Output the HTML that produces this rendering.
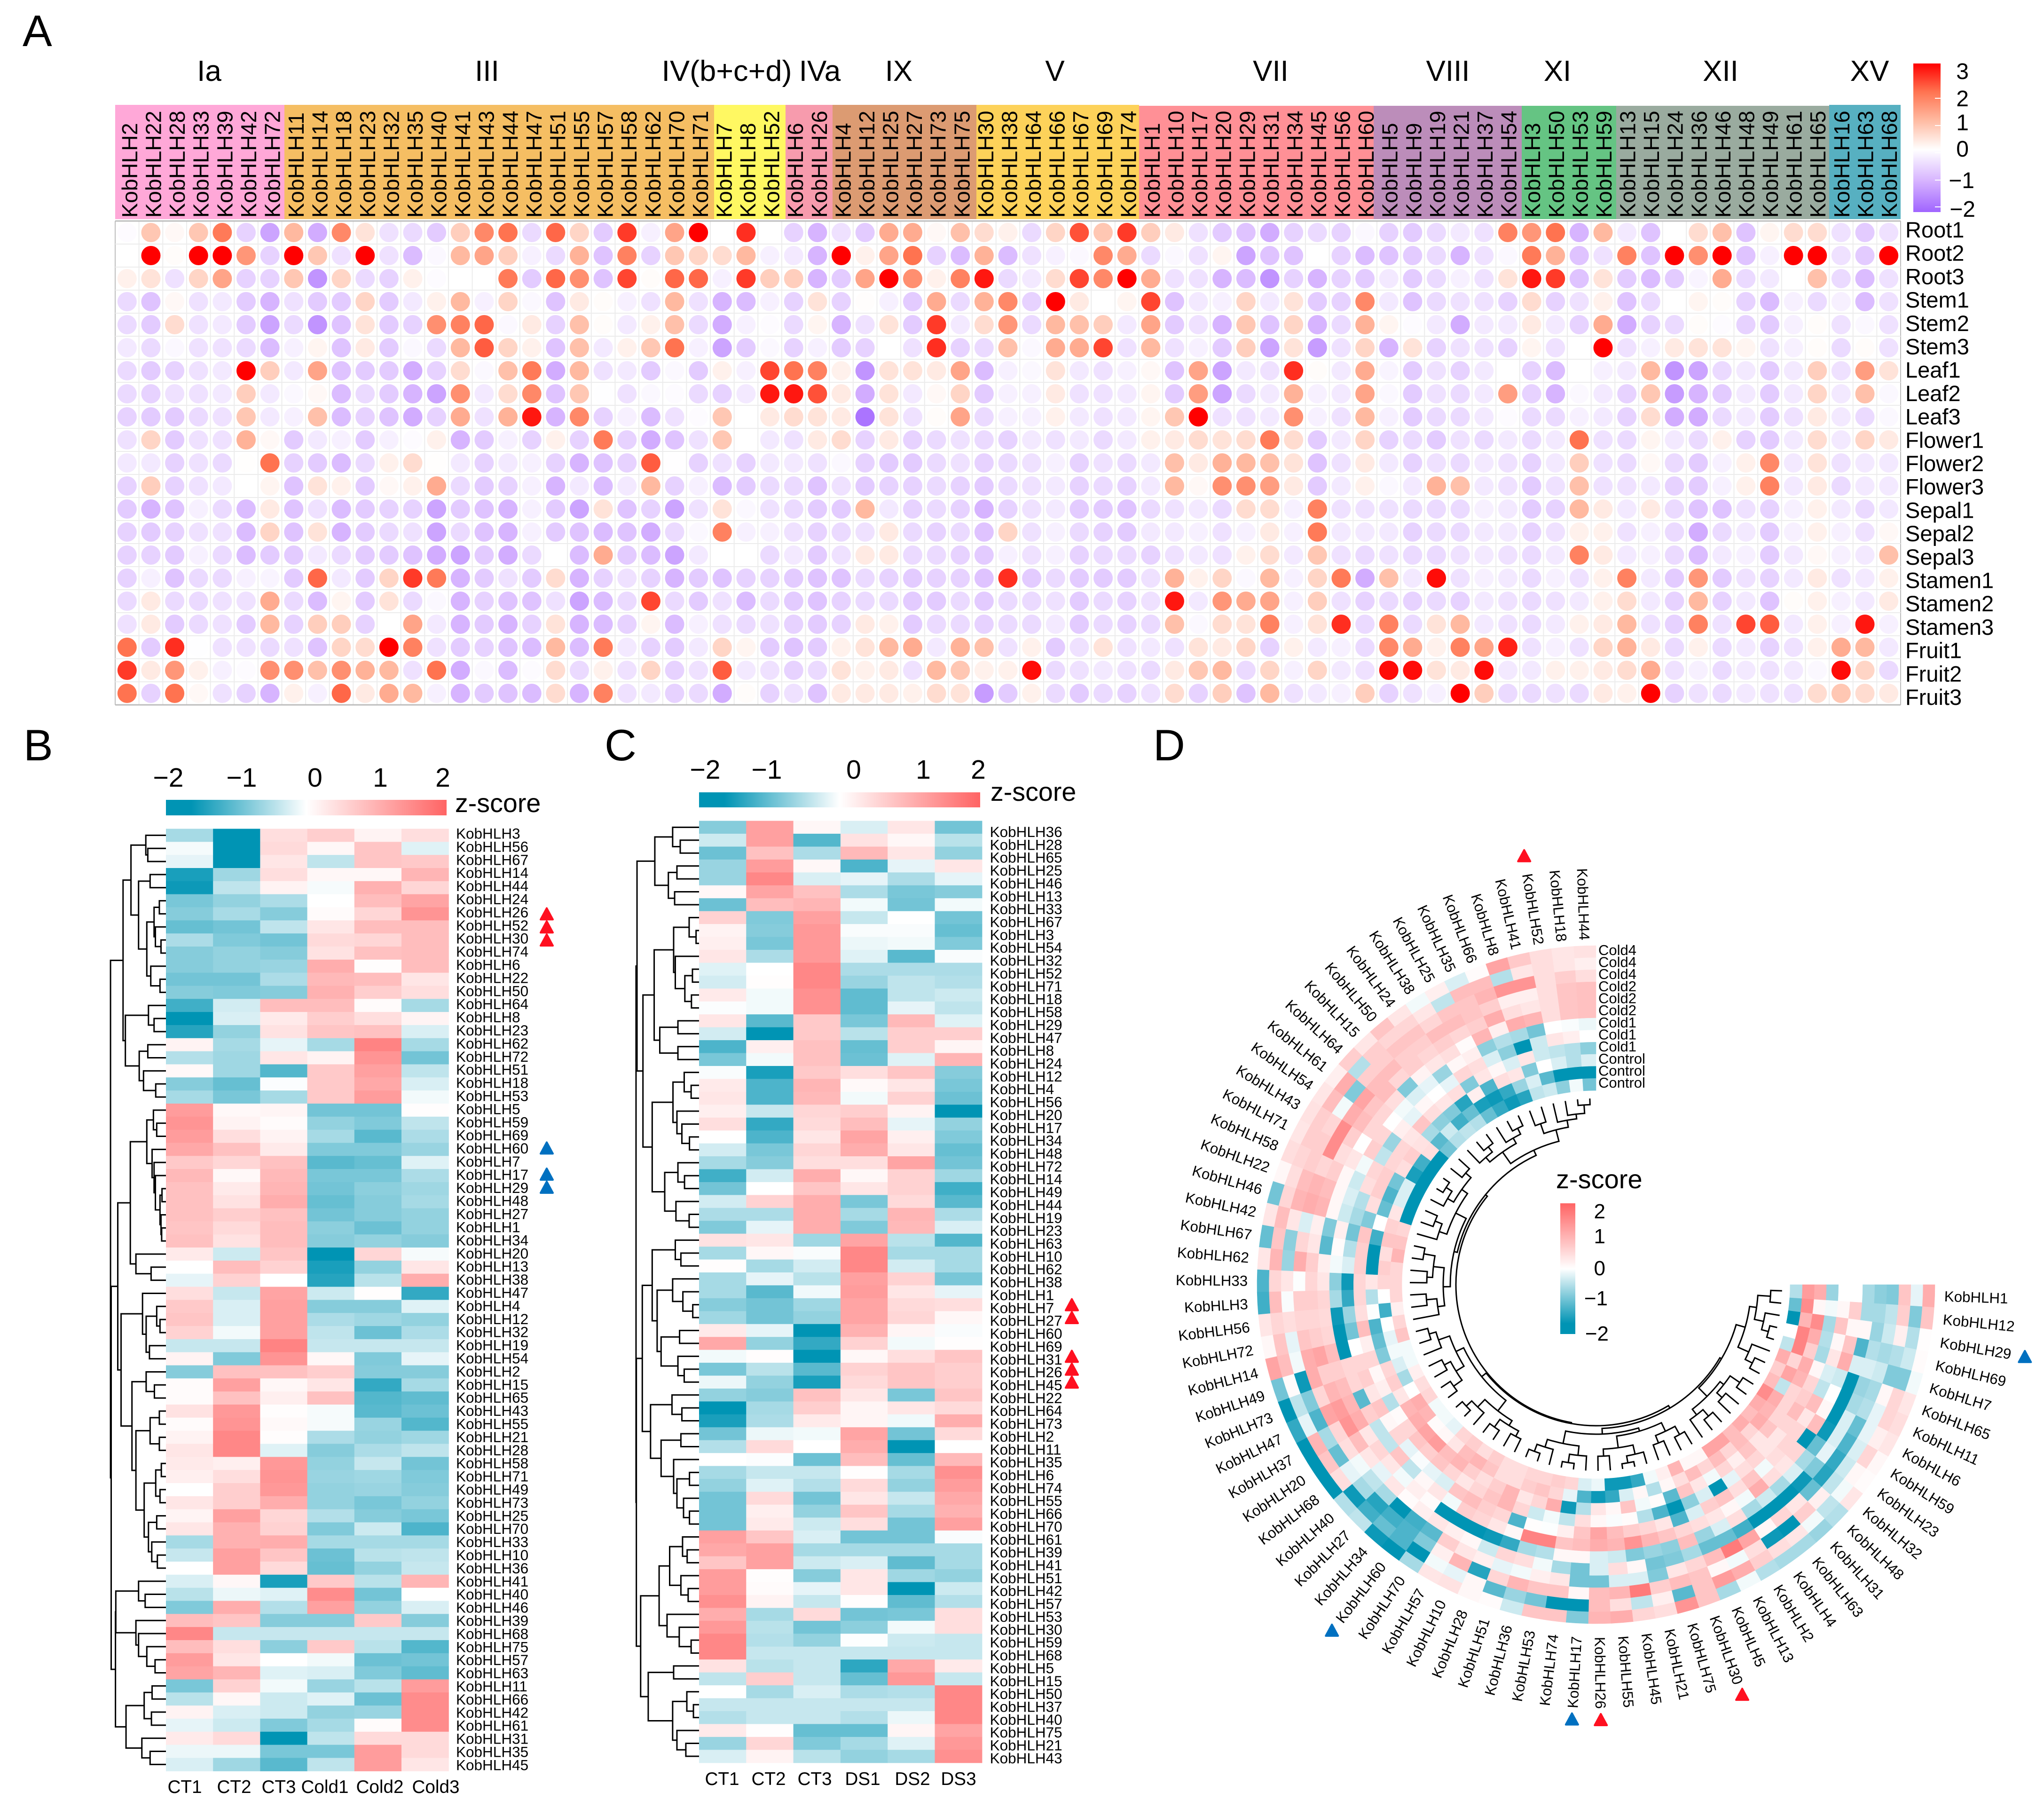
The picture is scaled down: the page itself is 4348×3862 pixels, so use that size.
<!DOCTYPE html>
<html lang="en">
<head>
<meta charset="utf-8">
<title>KobHLH expression heatmaps</title>
<style>
html,body{margin:0;padding:0;background:#fff}
svg{display:block;font-family:"Liberation Sans",sans-serif}
</style>
</head>
<body>
<svg id="fig" xmlns="http://www.w3.org/2000/svg" width="4348" height="3862" viewBox="0 0 4348 3862">
<defs>
<linearGradient id="gradA" x1="0" y1="0" x2="0" y2="1">
<stop offset="0" stop-color="#ff0000"/><stop offset=".19" stop-color="#ff7350"/><stop offset=".38" stop-color="#ffb9a0"/><stop offset=".58" stop-color="#ffffff"/><stop offset=".79" stop-color="#d7b4ff"/><stop offset="1" stop-color="#a064ff"/>
</linearGradient>
<linearGradient id="gradH" x1="0" y1="0" x2="1" y2="0">
<stop offset="0" stop-color="#0094b4"/><stop offset=".09" stop-color="#0094b4"/><stop offset=".5" stop-color="#ffffff"/><stop offset="1" stop-color="#ff6464"/>
</linearGradient>
<linearGradient id="gradV" x1="0" y1="0" x2="0" y2="1">
<stop offset="0" stop-color="#ff6464"/><stop offset=".5" stop-color="#ffffff"/><stop offset=".92" stop-color="#0094b4"/><stop offset="1" stop-color="#0094b4"/>
</linearGradient>
</defs>

<text x="48" y="98" font-size="94">A</text>
<text x="50" y="1617" font-size="94">B</text>
<text x="1286" y="1617" font-size="94">C</text>
<text x="2453" y="1617" font-size="94">D</text>

<g font-size="62" text-anchor="middle">
<text x="445" y="172">Ia</text>
<text x="1036" y="172">III</text>
<text x="1546" y="172" textLength="277" lengthAdjust="spacingAndGlyphs">IV(b+c+d)</text>
<text x="1744" y="172">IVa</text>
<text x="1912" y="172">IX</text>
<text x="2244" y="172">V</text>
<text x="2703" y="172">VII</text>
<text x="3080" y="172">VIII</text>
<text x="3313" y="172">XI</text>
<text x="3660" y="172">XII</text>
<text x="3977" y="172">XV</text>
</g>

<g>
<rect x="4070" y="135" width="58" height="316" fill="url(#gradA)"/>
<g stroke="#fff" stroke-width="2">
<line x1="4116" x2="4128" y1="209" y2="209"/><line x1="4116" x2="4128" y1="267" y2="267"/><line x1="4116" x2="4128" y1="325" y2="325"/><line x1="4116" x2="4128" y1="383" y2="383"/><line x1="4116" x2="4128" y1="440" y2="440"/>
</g>
<g font-size="48" text-anchor="end">
<text x="4188" y="168">3</text>
<text x="4188" y="226">2</text>
<text x="4188" y="277">1</text>
<text x="4188" y="333">0</text>
<text x="4200" y="400">−1</text>
<text x="4202" y="461">−2</text>
</g>
</g>

<g>
<rect x="353" y="1701" width="597" height="33" fill="url(#gradH)"/>
<g font-size="57" text-anchor="middle">
<text x="358" y="1673">−2</text>
<text x="514" y="1673">−1</text>
<text x="670" y="1673">0</text>
<text x="809" y="1673">1</text>
<text x="942" y="1673">2</text>
</g>
<text x="968" y="1727" font-size="55.6">z-score</text>
</g>
<g font-size="38.7" text-anchor="middle">
<text x="393" y="3813">CT1</text>
<text x="498" y="3813">CT2</text>
<text x="593" y="3813">CT3</text>
<text x="691" y="3813">Cold1</text>
<text x="808" y="3813">Cold2</text>
<text x="927" y="3813">Cold3</text>
</g>

<g>
<rect x="1487" y="1685" width="598" height="32" fill="url(#gradH)"/>
<g font-size="57" text-anchor="middle">
<text x="1500" y="1656">−2</text>
<text x="1631" y="1656">−1</text>
<text x="1816" y="1656">0</text>
<text x="1964" y="1656">1</text>
<text x="2081" y="1656">2</text>
</g>
<text x="2107" y="1703" font-size="55.6">z-score</text>
</g>
<g font-size="38.7" text-anchor="middle">
<text x="1536" y="3796">CT1</text>
<text x="1635" y="3796">CT2</text>
<text x="1733" y="3796">CT3</text>
<text x="1835" y="3796">DS1</text>
<text x="1941" y="3796">DS2</text>
<text x="2039" y="3796">DS3</text>
</g>

<g>
<text x="3310" y="2527" font-size="56">z-score</text>
<rect x="3319" y="2559" width="32" height="278" fill="url(#gradV)"/>
<g font-size="44" text-anchor="end">
<text x="3415" y="2591">2</text>
<text x="3415" y="2644">1</text>
<text x="3415" y="2712">0</text>
<text x="3420" y="2776">−1</text>
<text x="3422" y="2851">−2</text>
</g>
</g>

<g id="panelA"></g>
<g id="panelB"></g>
<g id="panelC"></g>
<g id="panelD"></g>
</svg>

<script>
/* ---------- Panel A data ---------- */
const genesA=["KobHLH2","KobHLH22","KobHLH28","KobHLH33","KobHLH39","KobHLH42","KobHLH72","KobHLH11","KobHLH14","KobHLH18","KobHLH23","KobHLH32","KobHLH35","KobHLH40","KobHLH41","KobHLH43","KobHLH44","KobHLH47","KobHLH51","KobHLH55","KobHLH57","KobHLH58","KobHLH62","KobHLH70","KobHLH71","KobHLH7","KobHLH8","KobHLH52","KobHLH6","KobHLH26","KobHLH4","KobHLH12","KobHLH25","KobHLH27","KobHLH73","KobHLH75","KobHLH30","KobHLH38","KobHLH64","KobHLH66","KobHLH67","KobHLH69","KobHLH74","KobHLH1","KobHLH10","KobHLH17","KobHLH20","KobHLH29","KobHLH31","KobHLH34","KobHLH45","KobHLH56","KobHLH60","KobHLH5","KobHLH9","KobHLH19","KobHLH21","KobHLH37","KobHLH54","KobHLH3","KobHLH50","KobHLH53","KobHLH59","KobHLH13","KobHLH15","KobHLH24","KobHLH36","KobHLH46","KobHLH48","KobHLH49","KobHLH61","KobHLH65","KobHLH16","KobHLH63","KobHLH68"];
const tissuesA=["Root1","Root2","Root3","Stem1","Stem2","Stem3","Leaf1","Leaf2","Leaf3","Flower1","Flower2","Flower3","Sepal1","Sepal2","Sepal3","Stamen1","Stamen2","Stamen3","Fruit1","Fruit2","Fruit3"];
const root1=[-.05,.8,.1,.8,1.9,-.6,-1.2,1,-1.1,1.7,.4,-.4,-.5,-.7,.7,1.7,2,-.5,2.1,.6,-.7,2.5,-.2,1.3,3,0,2.6,0,-.6,-1,-.4,-.7,1.2,1.2,.1,.9,.5,.2,-.5,.6,2.3,.8,2.5,.7,.3,-.4,-.7,-.8,-1.1,-.6,-.5,-.6,-.1,-.6,-.7,-.5,-.3,-.4,1.8,1.5,2,-1,1,-.3,-.8,0,.5,.9,-.8,.15,.5,.5,-.4,-.7,-.4];
const root2=[0,3,.05,3,3,1.5,-.6,3,.8,-.4,3,-.4,-.9,-.1,1,1.3,.7,-.2,-.5,1.1,-.8,1.8,-.6,.8,.6,.5,1,-.2,-.3,-1,3,.2,1.3,2,-.6,-.9,1.1,-.9,-.4,-.2,-.1,1.7,1.2,-.5,-.1,-.4,.15,-1.2,-.8,-.8,0,-.6,-.9,-.8,-.7,-.5,-1,-.4,-.1,1.9,1.1,-.8,-.4,1.8,-.8,3,1.6,3,-.8,-.2,3,3,-.4,-.7,3];
const root3=[.2,.4,-.4,.6,1.3,-.6,-.6,.8,-1.4,.6,-.5,-.6,.2,-.05,0,0,1.9,-.7,2.1,1.6,-.8,2.4,.05,2.1,2.1,-.2,2.5,.7,.7,-1,-.7,1.3,3,1.6,.2,1.8,2.8,-.5,-.3,.5,2.4,1.7,3,1.2,-.4,-.4,-1,-.9,-1.4,-.6,-1,-.6,-.7,-.3,-.7,-.5,-.2,-.4,.4,2.8,2.5,-.8,.4,-.7,-.9,-.7,-.15,1.2,-.5,-.3,0,.9,-.5,-.9,-.4];
const stem1=[-.5,-.8,.1,-.4,-.3,-.7,-1,-.4,-.7,-.7,.6,-.7,-.3,.2,1,-.2,.6,-.1,-.8,.3,.05,-.2,-.4,1,-.4,-1,-.9,-.2,-.6,.4,-.6,.03,-.2,-.7,1.2,-.5,1.1,1.7,-.6,3,.3,0,.15,2.4,-.8,-.3,-.2,.6,-.3,.4,-.7,-.6,1.7,-.3,-.8,-.5,-.4,-.4,-.6,.5,-.6,-.4,.2,-.8,-.5,0,.15,.05,-.6,-.9,-.2,-.5,-.2,-.9,-.4];
const stem2=[-.5,-.7,.5,-.4,-.3,-.7,-1.2,-.5,-1.4,-.8,.4,-.7,-.6,1.6,1.8,2.1,-.1,.3,-.6,.9,.05,-.3,.2,.9,-.5,-1.1,-.2,-.05,-.5,.15,-1,-.4,.4,-.7,2.5,-.3,.5,1.5,-.5,1,.9,.7,-.3,1.3,-.7,-.4,-1,.8,-.8,.6,-1,-.5,1.1,.15,-.05,-.3,-1.1,-.3,-.3,.3,-.3,-.6,1.2,-1.1,-.6,-.5,.05,-.05,-.6,-.7,-.2,.05,-.4,-.1,-.4];
const stem3=[-.3,-.5,-.1,-.4,-.4,-.5,-.9,-.2,.15,-.8,.3,-.7,-.1,-.5,1,2.2,.6,.2,-.8,.9,-.3,.2,.8,2,-.2,-1.2,-.7,-.1,-.6,-.2,-.7,-.6,0,-.4,2.6,-.6,-.5,.9,-.1,1.2,1.2,2.4,-.4,1,-.4,-.2,-.7,.7,-1.2,.4,-1.3,-.4,.6,-1,.4,-.6,-.4,-.4,-.6,.15,-.4,0,3,-.4,-.2,.3,.4,.4,.15,-.4,-.2,.05,-.5,.05,-.4];
const leaf1=[-.5,-.7,-.6,-.4,-.3,3,.7,-.3,1.3,-.8,-.7,-.7,-1.1,-.6,.5,-.1,.9,1.9,-1.1,1,-.4,-.3,-.7,-.1,-.7,.2,-.2,2.4,2,1.8,.2,-1.4,.4,.4,.3,1.3,-.9,-.2,-.1,.4,-.3,-.4,-.2,.1,-.8,1.3,-1.2,-.3,-.4,2.6,.05,-.3,1.2,-.15,-.7,-.4,-.6,-.3,0,-.6,-.9,0,-.2,-.3,1,-1.4,-1.2,-.5,-.3,-.7,-.3,.7,-.4,1.4,.4];
const leaf2=[-.5,-.6,-.4,-.4,-.3,.7,-.3,-.1,.1,-.9,-.5,-.7,-1,-1.2,1.6,-.3,.5,1.7,-.8,.8,-.02,-.4,-.1,-.05,-.5,-.6,-.3,2.8,2.8,2.3,.3,-1.1,.4,-.3,.1,.6,-.7,-.2,-.2,.3,-.4,-.4,-.3,.15,-.7,1.4,-1.2,-.5,-.3,1.1,-.2,-.3,1.3,-.1,-.7,-.4,-.5,-.3,1.4,-.6,-1,-.1,-.3,-.6,.8,-1.3,-1,-.7,-.3,-.7,-.3,.6,-.3,.9,-.1];
const leaf3=[-.6,-.7,-.7,-.5,-.4,.8,-.3,-.2,.9,-.9,-.6,-.8,-1.1,-.6,1.2,-.4,1.1,2.8,-1,1.7,-.6,-.2,-.9,-.4,-.05,.8,0,.3,.5,.4,.3,-1.8,.4,-.4,.05,1.3,-.5,-.2,-.2,.2,-.3,-.4,-.3,.15,.8,3,-.4,-.4,-.3,1.6,-.2,-.4,1,-.2,-.7,-.5,-.5,-.3,-.05,-.5,-.5,-.2,-.3,-.6,.5,-1.1,-1.1,-.5,-.3,-.7,-.4,.3,-.3,-.5,-.1];
const flower1=[-.4,.6,-.7,-.4,-.4,1.1,.1,-.7,-.3,-.2,-.7,-.2,-.05,.2,-1,-.7,-.2,-.6,.2,-.6,1.9,-.6,-1.1,-.8,-.4,.8,0,-.3,-.4,.3,.5,-.6,.3,-.6,-.5,-.4,-.5,-.6,-.3,-.4,-.3,-.5,-.3,.2,.3,.5,.4,.5,1.9,.5,-.7,-.3,.6,-.6,-.5,-.7,-.4,-.5,-.3,-.5,-.3,2,-.4,-.5,.15,-.3,-.5,.2,-.6,-.7,-.3,.5,-.3,.6,.3];
const flower2=[-.3,-.3,-.6,-.4,-.5,.02,2,-.6,-.7,-.9,-.5,.2,.5,.02,-.3,-.6,-.3,-.2,-.6,-1,-.8,-.6,2.2,-.01,-.6,-.4,-.6,-.3,-.3,-.4,-.1,-.6,-.7,-.7,-.5,-.4,-.6,-.5,-.4,-.2,-.6,-.4,-.5,-.3,.9,.3,1.1,1,.9,.4,-.8,-.4,.3,-.3,-.6,-.4,-.5,-.3,-.4,-.6,-.3,.7,-.4,-.5,.1,-.5,-.7,-.2,.2,1.7,-.3,.4,-.4,-.3,-.3];
const flower3=[-.6,.7,-.6,-.4,-.3,0,.15,-.8,.4,.2,-.7,.1,.2,1.2,-.5,-.7,-.6,-.2,-1,-.3,-.9,-.3,1,-.6,-.2,-.9,-.7,-.5,-.5,-.8,-.4,-.7,-.6,-.6,-.5,-.6,-.7,-.5,-.4,-.3,-.6,-.5,-.6,-.3,1,.1,1.6,1.6,1.4,.3,-.7,-.3,.2,-.1,-.3,1.1,.9,-.3,-.4,-.7,-.4,.9,-.4,-.4,-.3,-.6,-.7,-.2,.2,1.8,-.3,.3,-.5,-.3,-.3];
const sepal1=[-.7,-1,-.8,-.2,-.5,-.9,.3,-.8,-.4,-.9,-.7,-.6,-.6,-1.2,-.7,-.8,-1,-.2,-.7,-1.2,.4,-.8,-.6,-1.2,-.4,.4,-.1,-.4,-.5,-.7,-.7,1,-.3,-.6,-.5,-.6,-1,-.6,-.4,-.3,-.7,-.7,-.8,-.5,-.4,-.3,-.5,.5,.5,-.2,1.8,-.4,-.4,-.4,-.5,-.5,-.5,-.2,-.3,-.7,-.6,1,.3,-.3,.3,-.5,-.8,-.8,-.4,-.6,-.2,.2,-.3,-.5,-.3];
const sepal2=[-.6,-.7,-.6,-.4,-.4,-.9,.6,-.8,.4,-1,-.7,-.5,-.4,-1.2,-.5,-.8,-1,-.2,-.7,-.8,-.9,-.8,-1.1,-.5,-.1,1.8,-.2,-.2,-.4,-.6,-.5,-.4,.3,-.5,-.6,-.5,-.8,.6,-.4,-.2,-.5,-.6,-.7,-.3,-.3,-.2,-.4,-.2,.3,-.2,1.9,-.3,-.3,-.3,-.6,-.5,-.5,-.3,-.3,-.6,-.4,.2,.2,-.4,-.2,-.5,-1.1,-.5,-.3,-.7,-.2,.2,-.2,-.4,.1];
const sepal3=[-.6,-.6,-.7,-.2,-.5,-.9,-.7,-.7,-.3,-.5,-.7,-.7,-.8,-1.1,-1.2,-.7,-1.1,-.5,0,-.9,1.2,-.7,-.9,-1.2,-.3,0,0,-.5,-.3,-.7,-.4,.3,.3,-.5,-.5,-.6,-.7,-.2,-.4,-.2,-.6,-.5,-.5,-.6,-.4,-.3,-.4,.2,.5,-.3,.8,-.4,-.5,-.4,-.5,-.5,-.4,-.3,-.4,-.5,-.3,1.8,.3,-.3,-.2,-.5,-.9,-.3,-.2,-.7,-.3,.1,-.2,-.3,.9];
const stamen1=[-.6,-.2,-.8,-.5,-.5,-.2,-.15,-.7,2.1,-.3,-.7,.6,2.5,1.9,-1,-.7,-.4,-.7,.5,-1,-.6,-.4,-.6,-1,-.7,-.8,-.6,-.6,-.7,-.8,-.8,-.5,-.6,-.7,-.6,-.6,-.8,2.6,-.7,-.5,-.7,-.7,-.7,-.4,1.1,.2,.6,-.1,1,-.2,.6,1.9,-1.1,.9,-.3,2.9,-.4,-.2,-.3,-.5,-.2,-.4,.2,1.8,-.3,-.7,1.5,-.7,-.4,-.6,-.3,.3,-.4,-.3,.2];
const stamen2=[-.5,.3,-.5,-.5,-.4,-.4,1.2,-.5,-.9,.15,-.7,.4,-.5,-.1,-1,-.6,-.8,-.8,-.4,-1.2,-.9,-.5,2.4,-.5,-.7,-.4,-.9,-.5,-.7,-.8,-.6,-.5,-.5,-.7,-.7,-.5,-.7,-.5,-.5,-.4,-.7,-.5,-.6,-.4,2.8,-.3,1.5,1.2,1.3,-.2,.7,-.4,-.6,-.5,-.6,-.5,-.6,-.3,-.4,-.5,-.4,-.3,.2,.5,-.3,-.6,1,-.6,-.3,-.8,.05,.2,-.2,-.3,.3];
const stamen3=[-.4,.3,-.7,-.5,-.4,-.7,1,-.6,.7,.7,-.6,0,1.3,-.3,-1,-.7,-1,-.6,.4,-1,-.9,-.6,.15,-.9,-.2,-.4,-.5,-.4,-.6,-.7,-.6,.3,.2,-.7,-.5,-.5,-.6,-.5,-.5,-.3,-.7,-.5,-.6,-.5,.9,-.1,.5,.4,1.8,-.2,.4,2.6,-.5,1.8,-.5,.4,1,-.3,-.4,-.5,-.3,.2,.3,1,-.4,-.6,1.8,-.4,2.4,2.2,-.3,.2,-.2,2.8,-.2];
const fruit1=[2,-.7,2.6,-.02,-.4,-.4,-.5,-.4,-.8,.6,.5,3,1.8,-.4,-.7,-.6,-.8,-.9,1,-.9,1.9,-.3,-.6,-.7,-.3,.6,.15,-.7,-.8,-.7,.2,.4,1,1.2,-.3,1.1,.9,-.4,.2,-.7,-.4,.4,-.4,-.3,-.4,.4,.3,.6,-.6,.2,-.3,-.2,-.5,1.7,1.2,.2,1.8,1.3,2.7,-.4,-.2,-.4,.6,1.1,.3,-.5,.2,-.5,-.3,-.6,-.4,.2,1.2,1,-.3];
const fruit2=[2.5,.3,1.5,.2,-.2,-.05,1.6,1.6,.9,1.6,1.1,1,-.4,2,-1.1,-.1,-.9,-.05,.5,-.5,.2,-.4,.6,-.6,-.4,2.2,-.3,-.4,-.6,-.5,.4,.2,.3,-.4,1,.8,.2,.2,2.9,-.5,-.4,-.3,-.4,-.5,.3,.8,1,-.5,.6,-.2,.6,-.3,-.4,2.9,2.9,.4,.3,2.9,-.3,-.3,.2,.2,.3,.5,1.2,-.4,-.2,-.5,-.3,-.4,-.3,-.1,2.9,.6,-.5];
const fruit3=[2,-.6,2,.1,-.4,-.6,-1,.2,-.2,2.1,.3,1.2,1,-.2,-1,-.7,-.8,-.9,.5,-1,1.8,-.4,-.3,-.6,-.5,-1.1,.05,-.6,-.4,-.8,.3,.3,.3,.2,.5,.4,-1.3,-.7,.2,-.5,-.7,-.5,-.6,-.4,.5,-.6,.7,-.8,1,-.4,-.3,-.2,.7,-.6,-.4,-.2,3,.7,-.5,-.5,-.4,-.5,.3,.2,3,-.6,-.4,-.5,-.3,-.4,-.4,.5,.8,.5,.3];
const valuesA=[root1,root2,root3,stem1,stem2,stem3,leaf1,leaf2,leaf3,flower1,flower2,flower3,sepal1,sepal2,sepal3,stamen1,stamen2,stamen3,fruit1,fruit2,fruit3];

/* ---------- Panel B data ---------- */
const genesB=["KobHLH3","KobHLH56","KobHLH67","KobHLH14","KobHLH44","KobHLH24","KobHLH26","KobHLH52","KobHLH30","KobHLH74","KobHLH6","KobHLH22","KobHLH50","KobHLH64","KobHLH8","KobHLH23","KobHLH62","KobHLH72","KobHLH51","KobHLH18","KobHLH53","KobHLH5","KobHLH59","KobHLH69","KobHLH60","KobHLH7","KobHLH17","KobHLH29","KobHLH48","KobHLH27","KobHLH1","KobHLH34","KobHLH20","KobHLH13","KobHLH38","KobHLH47","KobHLH4","KobHLH12","KobHLH32","KobHLH19","KobHLH54","KobHLH2","KobHLH15","KobHLH65","KobHLH43","KobHLH55","KobHLH21","KobHLH28","KobHLH58","KobHLH71","KobHLH49","KobHLH73","KobHLH25","KobHLH70","KobHLH33","KobHLH10","KobHLH36","KobHLH41","KobHLH40","KobHLH46","KobHLH39","KobHLH68","KobHLH75","KobHLH57","KobHLH63","KobHLH11","KobHLH66","KobHLH42","KobHLH61","KobHLH31","KobHLH35","KobHLH45"];
const valuesB=[[-.7,-2,.4,.6,.15,.4],[-.08,-2,.45,.1,.7,-.25],[-.2,-2,.3,-.5,.7,.65],[-1.8,-.75,.4,.1,.1,.9],[-1.9,-.5,.15,-.07,.95,.5],[-1.05,-.85,-.65,0,.8,1.1],[-.95,-.68,-.95,.05,.5,1.3],[-1.2,-1.1,-.5,.3,.8,.8],[-.65,-1,-1.1,.45,.5,.8],[-.95,-.85,-.95,.35,.75,.8],[-.95,-.85,-.8,1,.03,.8],[-1.1,-1.1,-.65,.85,.8,.3],[-.95,-1,-.95,.95,.6,.4],[-1.5,-.35,.8,.8,.05,-.7],[-2,-.3,.25,.6,.4,.13],[-1.7,-.85,.35,.7,.75,-.3],[.15,-.7,-.2,-.7,1.5,-.7],[-.6,-.75,.3,.15,1.3,-1.1],[.08,-.75,-1.35,.65,1.15,-.5],[-.95,-1.2,-.03,.65,1.05,-.3],[-.7,-1.05,-.7,.65,1.2,-.1],[1.2,.08,.12,-1.1,-1.1,.03],[1.3,.15,.05,-.85,-1,-.5],[1.2,.4,.15,-.7,-1.3,-.65],[1.05,.75,.25,-1,-1,-.8],[.65,.5,.75,-1.3,-1.2,-.25],[.85,.08,.85,-1.05,-1.05,-.65],[.75,.25,.9,-1.1,-.9,-.75],[.75,.35,1,-1.2,-.95,-.7],[.75,.6,.75,-1.1,-.95,-.85],[.7,.45,.8,-.9,-1.15,-.85],[.75,.35,.8,-.95,-.85,-.95],[.25,-.4,.7,-2,.5,-.07],[0,.8,.55,-1.8,-.85,.3],[-.2,.55,0,-1.7,-.55,1],[.4,-.45,1.1,-.4,.03,-1.6],[.65,-.3,1.15,-.95,-.95,-.25],[.7,-.3,1.15,-.65,-.75,-.85],[.55,-.1,1.15,-.5,-1.15,-.65],[-.45,-.45,1.5,-.45,-.45,-.45],[.15,-1,1.3,.1,-1,-.2],[-.95,.75,.75,.6,-.95,-.95],[.05,1.15,.1,.3,-1.6,-.7],[.05,.75,.2,.75,-1.35,-1.25],[.35,1.25,.03,-.07,-1.3,-1.15],[.05,1.3,.07,-.07,-.8,-1.35],[.15,1.45,.03,-.65,-.85,-.75],[.3,1.45,-.25,-.95,-.65,-.5],[.25,.2,1.25,-.85,-.45,-1.1],[.2,.4,1.3,-.8,-.75,-1],[0,.6,1.25,-.85,-.8,-.95],[.3,.6,1,-.85,-1.05,-.85],[.13,1.15,.5,-.6,-.95,-1.05],[.3,.95,.55,-1,-.4,-1.4],[-.7,.95,1,-.7,-.7,-.7],[-.45,1.15,.7,-1.15,-.55,-.5],[0,1.15,.45,-1.2,-.85,-.45],[-.3,.1,-1.8,.65,-.55,.9],[-.55,-.15,-.25,1.4,-1.1,0],[-1,1,-.6,1.15,-.85,-.3],[.8,.7,-.95,-.95,.65,-.95],[1.45,-.45,-.45,-.45,-.45,-.45],[.8,.4,-.9,.65,-.55,-1.35],[1.2,.3,0,-.1,-1.15,-1.1],[1.1,.9,-.25,-.3,-1,-1.25],[-1.05,.55,-.1,-.8,-.55,1.2],[-.55,.1,-.4,-.25,-1.15,1.4],[.15,-.3,-.4,-.85,-.8,1.4],[-.2,-.4,-1,-.7,.05,1.4],[.25,.45,-2,-.5,.45,.45],[-.15,-.15,-1.05,-1.05,1.2,.45],[-.3,-.75,-1.3,-.5,1.2,.3]];
const redMarkersB=["KobHLH26","KobHLH52","KobHLH30"];
const blueMarkersB=["KobHLH60","KobHLH17","KobHLH29"];
/* dendrogram merge heights: [height, left, right]; 0 is a leaf */
const treeB=[168,[130,[106,[61,0,[55,0,0]],[83,[48,0,0],[58,[36,[20,0,0],[32,0,[15,0,0]]],[46,0,[18,0,0]]]]],[123,[53,0,[36,0,0]],[81,[55,0,0],[68,0,[31,0,0]]]]],[166,[146,[108,[58,[38,0,[28,0,0]],[42,0,[36,0,[32,0,[18,[12,0,0],[15,0,[13,0,0]]]]]]],[91,0,[45,0,0]]],[136,[71,0,[60,[28,0,[18,0,0]],[50,0,0]]],[103,[60,0,[35,0,0]],[91,[48,[20,0,0],[20,0,0]],[66,[31,[14,0,0],[18,0,0]],[53,[28,0,0],[43,0,[26,0,0]]]]]]]],[153,[152,[83,0,[63,0,0]],[91,0,[83,0,[58,0,[33,0,0]]]]],[121,[66,[42,0,0],[44,0,0]],[73,0,[48,0,0]]]]]];

/* ---------- Panel C data ---------- */
const genesC=["KobHLH36","KobHLH28","KobHLH65","KobHLH25","KobHLH46","KobHLH13","KobHLH33","KobHLH67","KobHLH3","KobHLH54","KobHLH32","KobHLH52","KobHLH71","KobHLH18","KobHLH58","KobHLH29","KobHLH47","KobHLH8","KobHLH24","KobHLH12","KobHLH4","KobHLH56","KobHLH20","KobHLH17","KobHLH34","KobHLH48","KobHLH72","KobHLH14","KobHLH49","KobHLH44","KobHLH19","KobHLH23","KobHLH63","KobHLH10","KobHLH62","KobHLH38","KobHLH1","KobHLH7","KobHLH27","KobHLH60","KobHLH69","KobHLH31","KobHLH26","KobHLH45","KobHLH22","KobHLH64","KobHLH73","KobHLH2","KobHLH11","KobHLH35","KobHLH6","KobHLH74","KobHLH55","KobHLH66","KobHLH70","KobHLH61","KobHLH39","KobHLH41","KobHLH51","KobHLH42","KobHLH57","KobHLH53","KobHLH30","KobHLH59","KobHLH68","KobHLH5","KobHLH15","KobHLH50","KobHLH37","KobHLH40","KobHLH75","KobHLH21","KobHLH43"];
const valuesC=[[-.95,1.15,.1,-.3,.3,-1.1],[-.4,1.15,-1.35,.35,.1,-.55],[-1.15,.75,-.65,.85,.3,-.85],[-.8,1.2,.1,-1.4,-.2,.3],[-.8,1.45,-.3,-.2,-.65,-.2],[.1,1.1,.75,-.65,-1.05,-.95],[-1.15,.8,.9,-.1,-1.1,-.1],[.55,-1,1.15,-.45,0,-1.1],[.15,-.95,1.25,-.05,-.05,-1.2],[.2,-1.05,1.25,-.15,-.1,-1],[.3,-.65,1.25,-.25,-1.3,-.05],[-.25,0,1.45,-.65,-.65,-.65],[-.35,.03,1.45,-.8,-.5,-.6],[.25,-.1,1.35,-1.25,-.5,-.4],[-.03,-.1,1.35,-1.25,-.2,-.5],[.3,-1.3,.65,-1.05,.85,-.25],[-.35,-2,.65,-.55,.6,.6],[-1.4,.2,.75,-1.2,.6,.12],[-1.05,-.1,.75,-1.15,-.25,.9],[-.05,-1.8,.65,.4,.7,-.95],[.25,-1.4,.9,.07,.3,-1.05],[.3,-1.4,.85,-.1,.55,-1.15],[.2,-.45,.5,.6,.15,-2],[.4,-1.6,.45,.8,-.2,-.85],[0,-1.4,.3,1.1,.2,-1],[-.35,-1.05,.5,1,.3,-1.2],[-.7,-.95,.4,.4,1.1,-1.1],[-1.5,-.35,1,.1,.55,-.75],[-1.1,0,.7,.3,.55,-1.5],[-.35,.55,1,-1.05,.45,-1.3],[-.65,-.65,1,-.7,.9,-.65],[-1,-.2,1,-1,.85,-.3],[.35,.3,-.75,1.1,-.55,-1.35],[-.7,.1,-.05,1.45,-.7,-.7],[.02,-.7,-.35,1.45,-.35,-.7],[-.7,-.2,-.55,1.15,.55,-1.05],[-.7,-1.3,-.12,1.2,.3,-.2],[-.95,-1.1,-.75,1.1,.45,.4],[-.75,-1.1,-.85,1.1,.5,.1],[.25,-.2,-2,.95,.12,-.05],[1.05,-.85,-1.6,.55,-.1,.02],[-.1,.03,-2,.1,.4,.7],[-1.05,-.55,-1.3,.55,.7,.6],[-.15,-.85,-1.8,.45,.7,.6],[-.85,-.95,.75,.3,-1.05,.7],[-2,-.7,.6,.12,.3,.45],[-1.8,-.65,.25,.12,-.12,1],[-1.1,-.15,-.1,1.1,-1.1,.45],[-.6,.45,0,1,-2,0],[0,-.03,-1.15,.8,-1.2,.85],[-.7,-.45,-.45,.03,-.7,1.35],[-.85,-.25,-.6,.45,-.85,1.2],[-1.1,.45,-1.1,.3,-.45,1.05],[-1.1,.2,-.85,.7,-.7,.95],[-1.1,.25,-.4,.4,-1.1,1.15],[1.15,.7,-.3,-1.1,-1.1,-.05],[1.05,1.15,-.7,-.7,-.7,-.7],[.7,1.15,-.4,-.3,-1.25,-.7],[1.2,.03,-.95,.3,-.75,-.85],[1.2,.05,-.2,.3,-2,-.4],[1.35,.15,-.45,.02,-1.25,-.6],[1,-.7,.45,-1.1,-1.05,.4],[1.25,-.55,-1.1,-.9,-.1,.4],[1.45,-.6,-.85,-.02,-.4,-.45],[1.45,-.45,-.45,-.45,-.45,-.45],[.35,-.55,-.45,-1.65,1.05,.25],[-.5,.6,-.45,-1.2,1.25,-.45],[0,-.7,-.3,-.65,-.6,1.45],[-.45,-.45,-.45,-.45,-.45,1.45],[-.6,-.45,-.45,-.6,-.15,1.45],[.25,.03,-1.2,-1.2,.12,1.1],[-.8,.5,-1,-.7,-.25,1.25],[-.3,.15,-.55,-.85,-.7,1.35]];
const redMarkersC=["KobHLH7","KobHLH27","KobHLH31","KobHLH26","KobHLH45"];
const treeC=[191,[188,[134,[80,0,[57,0,0]],[93,[67,0,0],[74,0,0]]],[170,[136,[77,[30,0,[9,0,0]],[72,0,[43,[20,0,0],[23,0,0]]]],[119,[64,0,0],[64,0,0]]],[142,[79,[45,0,[24,0,0]],[67,0,[52,0,[29,0,0]]]],[104,[64,0,[44,0,0]],[70,0,[30,0,0]]]]]],[190,[172,[142,[72,0,[55,0,0]],[127,[80,0,[49,0,[19,0,0]]],[115,[59,0,0],[64,0,[45,0,0]]]]],[147,[82,0,[52,0,0]],[115,[55,0,0],[77,0,[67,[29,0,0],[47,0,[29,0,0]]]]]]],[177,[121,[89,[50,0,[36,0,0]],[55,0,[33,0,0]]],[97,0,[60,0,[24,0,0]]]],[154,[77,0,0],[80,[37,0,[17,0,0]],[67,0,[40,0,0]]]]]]];

/* ---------- Panel D data ---------- */
const genesD=["KobHLH44","KobHLH18","KobHLH52","KobHLH41","KobHLH8","KobHLH66","KobHLH35","KobHLH25","KobHLH38","KobHLH24","KobHLH50","KobHLH15","KobHLH64","KobHLH61","KobHLH54","KobHLH43","KobHLH71","KobHLH58","KobHLH22","KobHLH46","KobHLH42","KobHLH67","KobHLH62","KobHLH33","KobHLH3","KobHLH56","KobHLH72","KobHLH14","KobHLH49","KobHLH73","KobHLH47","KobHLH37","KobHLH20","KobHLH68","KobHLH40","KobHLH27","KobHLH34","KobHLH60","KobHLH70","KobHLH57","KobHLH10","KobHLH28","KobHLH51","KobHLH36","KobHLH53","KobHLH74","KobHLH17","KobHLH26","KobHLH55","KobHLH45","KobHLH21","KobHLH75","KobHLH30","KobHLH5","KobHLH13","KobHLH2","KobHLH4","KobHLH63","KobHLH31","KobHLH48","KobHLH32","KobHLH23","KobHLH59","KobHLH6","KobHLH11","KobHLH65","KobHLH7","KobHLH69","KobHLH29","KobHLH12","KobHLH1"];
const ringsD=["Cold4","Cold4","Cold4","Cold2","Cold2","Cold2","Cold1","Cold1","Cold1","Control","Control","Control"];
const valuesD=[[.35,.2,.4,.75,.75,.75,-.15,0,-.9,-.3,-2,-1.1],[.3,.3,.6,.7,.7,.7,-.05,.2,-.6,-.6,-2,-.1],[.4,.4,.4,.4,.4,.4,0,.3,-.5,-.3,-2,-.9],[.65,.3,1.3,.2,.3,.9,-1.1,-.4,-.4,0,-1.3,-.4],[1.1,-.6,1.3,.2,.4,1,-.7,-2,.3,-1,-.3,-.5],[.05,.8,.9,.6,1,.2,-.6,-.9,-.3,.3,-.8,-1.7],[-.3,.8,.7,.7,.6,.9,-.9,-.3,.1,.4,-1.6,-1.9],[.2,-.5,.7,.8,.5,.05,.2,.4,.3,-1.4,-1.9,-1.6],[-.1,.3,.5,.8,.6,.4,.1,.5,-1,.2,-1.8,-1.2],[.3,.5,.7,.6,.5,.3,-.8,-.2,.4,-1.7,-1.2,-.6],[.7,.5,.7,.6,.6,.15,-.2,0,.3,-1,-1.5,-.5],[.3,.6,.6,.8,.5,-1,-.3,.1,.4,-.9,-.4,-.6],[.6,-.6,.6,.8,.8,.4,-.1,-.2,.7,-.7,-1.3,-1.1],[.2,1,-1,1.1,.7,.5,0,.2,.3,.35,.4,-2],[.3,.8,-.1,1,.8,.5,.5,-.8,.5,.6,-1.5,-2],[.35,.6,.5,1.4,.6,0,.6,-.5,.5,.4,-1.8,-2],[.3,.6,.6,1.4,.4,.3,-.1,.5,.6,-1.1,-.3,-2],[.4,.5,.6,.5,.6,.1,-.4,.4,.6,-1.4,-.3,-2],[.1,.4,.8,.9,.8,.1,-.3,-.6,.4,-1.2,.3,-2],[-1.1,.5,.9,1,.9,.1,-.4,-.7,-1,0,.55,.5],[.3,.8,.3,-.3,.2,-1,.2,-1.1,.7,-1.5,.7,.7],[-1.2,.7,-.9,.5,.3,-1.3,.05,-.6,.6,-2,.4,.9],[.3,.9,-.8,1,.6,.2,-.1,-.3,.6,-2,.6,.5],[-1.4,.5,.3,-.02,.5,.3,-.9,-1.9,.5,.3,.5,.5],[-1.5,.8,-.05,.6,.6,.5,-.7,-1.6,.5,-.6,0,.5],[.3,.5,.4,.5,.5,.45,-1.9,-.8,.4,-.02,-1.5,.2],[.1,.7,-.2,.7,.6,.5,-2,-1.1,.8,-1.4,0,.5],[1.1,.8,-.1,1,1.1,.8,-2,0,.2,-1.2,-.2,.7],[-1.1,.05,-1.9,1,.6,.6,.5,.5,.5,-1,-.1,-.1],[-2,-.5,-1,.5,.9,.8,.5,.6,.1,.5,-.3,-.1],[-1.6,-.2,-1.4,1.1,1.2,.9,-1.3,.3,.2,.6,-.7,.2],[-2,.9,-.7,.5,1.3,1,.6,.7,-.6,.3,0,.4],[-2,.7,-1.2,.4,.8,.3,-.5,.1,.05,.9,1,.5],[-2,.4,-.2,-.1,.3,.5,-.5,.5,.5,1,.9,-.1],[-.6,-1.9,-.7,-.5,-.2,.3,.7,-.2,.7,1.1,.05,-.1],[-.5,-1.5,-1.7,-.7,.3,-.1,-.5,-.05,.6,1.2,.1,-.2],[-1.9,-1.2,-1.5,-2,.05,.2,.1,-.2,.7,.8,.3,.5],[-2,-1.4,-1.4,-1.5,.2,.05,.3,-.3,.5,.9,.8,.6],[-.7,-2,-1,-1.3,.3,-2,-.1,.7,.3,.6,.9,.4],[.3,-.1,.2,.6,.2,-2,.6,.8,.5,.4,.7,.6],[.35,-.2,.9,.3,.1,-2,.5,.6,.7,.6,.4,.4],[.1,.1,-1.7,.2,-.4,-1.9,.3,.5,.9,.9,.4,.4],[.05,-1.3,.5,-.2,.5,-1.6,.1,-1.4,.5,.3,.6,.5],[-.4,-.8,.9,-.1,.4,-.7,1.5,.02,-.4,.5,.7,.5],[.7,-1.1,.7,.2,-.1,-.6,1.5,-.02,-.1,1,.5,.6],[.7,-2,.7,.3,-.7,.1,.7,.2,-.5,-1.9,-.2,.5],[-1,-2,.1,-1.1,-1.1,.1,.8,.7,.4,-.6,-1.4,-.3],[.9,.8,.8,-1.1,-.3,-.3,1,1.1,.1,.3,-1.9,-.15],[1,.4,.9,-.3,.4,-.4,.9,.8,-.05,.1,-1.6,-1.9],[.5,-.5,1.6,-.3,.1,-1,1.3,.6,.05,.7,-.3,-1.9],[.4,.2,.6,-1,-1.1,-.8,.9,.5,-.6,-.1,.1,-1.6],[1.3,-1.3,.8,.3,-1,-.9,.7,.3,-1.4,.05,-.6,-.1],[.7,.7,.7,.5,-.7,.8,.5,-1.4,-2,-1.3,.1,.2],[-.7,1.2,.1,.8,-1.2,-.8,.4,-.3,-.9,.7,.4,.9],[-.1,1,-.1,1.6,-1.2,-.3,.3,.6,-.3,.3,.8,.1],[-.6,.6,.4,1.1,-1.5,.4,.1,.7,-2,-.1,.5,.1],[-.7,.4,-1.9,.1,-2,-.7,-.1,.4,-.2,.5,.8,1.1],[-.7,.3,-2,.5,-2,-.4,1,.7,.4,.2,.5,1.1],[-.8,-.1,.6,.3,-2,-.7,.4,-.1,.5,.7,.8,.8],[-.6,-.5,.2,-1.2,-1.9,-.3,.3,.4,.3,.3,.5,1],[.3,-.1,-.5,-1.7,-1,-.7,.5,.5,.3,.7,1,.8],[.05,.1,-.4,-1.6,-.2,-1.2,-2,.5,.5,.5,.9,1],[.1,.5,-.3,-1.4,-.3,-1.9,.8,.3,.8,.5,1,1.4],[.3,.2,-.2,-1.2,-.3,-2,.1,.8,.6,.5,-.5,.8],[.4,.5,-.2,-.6,-.7,-2,0,-.5,.5,.9,1.1,.6],[.3,.5,.1,-.7,-.8,-2,-.4,-.3,.1,1,.5,1],[-.1,-1,-1,-.4,-.3,-.3,1,.3,-.7,.6,1.5,-.5],[.05,-.4,-.6,-.7,-.6,-1.4,.7,.1,-.6,1,1.5,0],[.03,-.6,.2,-.4,-.8,.1,.1,.7,-.7,1.4,.9,-2],[.7,-1,.6,-.5,-.7,-.7,.6,.1,-.1,.1,1.4,-1.2],[1,-.2,.7,-1,-.9,-.7,0,0,-.8,1,1.2,-.6]];
const redMarkersD=["KobHLH52","KobHLH26","KobHLH30"];
const blueMarkersD=["KobHLH60","KobHLH17","KobHLH29"];
const treeD=[298,[303,[315,[340,[355,[365,[383,0,0],0],0],[362,0,0]],[345,[358,[372,0,0],0],[358,[372,0,0],0]]],[310,[335,[350,[365,0,0],[365,[380,0,0],0]],[352,[368,0,0],0]],[325,[348,[372,0,0],[360,0,0]],[340,[362,0,0],0]]]],[300,[312,[330,[355,[370,0,0],0],[350,[365,0,0],[372,0,0]]],[340,[362,[378,0,0],0],[352,[372,0,0],[365,0,0]]]],[306,[318,[345,[362,[378,0,0],0],[365,[383,0,0],0]],[325,[350,[365,0,0],[370,[385,0,0],0]],[345,[362,0,0],[365,0,0]]]],[310,[335,[350,0,[368,0,0]],[345,[360,0,0],[370,0,0]]],[330,[355,[372,0,0],0],[345,[365,[380,0,0],0],[372,0,0]]]]]]];

/* ---------- Layout and style of the subfamily header bands ---------- */
const subfamilyPalette=["#ffa8d8","#f5be63","#fff862","#f79bad","#dc9b72","#fdd25a","#ff9096","#bc8dba","#65c483","#9aab9f","#57b0c1"];
const bandLayoutEdges=[245,605,1519,1671,1771,2077,2423,2922,3237,3438,3891,4043];

/* ---------- Helpers ---------- */
const SVGNS=document.getElementById('fig').namespaceURI;
function mk(tag,attrs,parent,text){
  const e=document.createElementNS(SVGNS,tag);
  for(const k in attrs)e.setAttribute(k,attrs[k]);
  if(text!==undefined)e.textContent=text;
  parent.appendChild(e);
  return e;
}
function lerpStops(v,stops){
  if(v<=stops[0][0])return `rgb(${stops[0][1]},${stops[0][2]},${stops[0][3]})`;
  for(let i=1;i<stops.length;i++){
    if(v<=stops[i][0]){
      const a=stops[i-1],b=stops[i],t=(v-a[0])/(b[0]-a[0]);
      return `rgb(${Math.round(a[1]+(b[1]-a[1])*t)},${Math.round(a[2]+(b[2]-a[2])*t)},${Math.round(a[3]+(b[3]-a[3])*t)})`;
    }
  }
  const l=stops[stops.length-1];
  return `rgb(${l[1]},${l[2]},${l[3]})`;
}
const colorDotStops=[[-2,160,100,255],[-1,215,180,255],[0,255,255,255],[1,255,185,160],[2,255,115,80],[3,255,0,0]];
const colorHeatStops=[[-2,0,148,180],[0,255,255,255],[2,255,90,90]];
function colorDot(v){return lerpStops(v,colorDotStops);}
function colorHeat(v){return lerpStops(v,colorHeatStops);}
function triangle(parent,cx,cy,fill){
  const w=13,h=12;
  const el=mk('path',{d:`M${cx},${cy-h}L${cx+w},${cy+h}L${cx-w},${cy+h}Z`,fill:fill,stroke:fill,'stroke-width':4,'stroke-linejoin':'round'},parent);
  return el;
}

/* ---------- Panel A ---------- */
(function(){
  const host=document.getElementById('panelA');
  const left=245,top=470,colW=50.64,rowH=49;
  const xCol=i=>left+colW*i;
  const yRow=j=>top+rowH*j;
  subfamilyPalette.forEach((fill,g)=>{
    const lower=(g>=6&&g<=9);
    const band=mk('rect',{x:bandLayoutEdges[g],y:lower?225:223,width:bandLayoutEdges[g+1]-bandLayoutEdges[g],height:lower?241:243,fill:fill},host);
    
    
  });
  genesA.forEach((name,i)=>{
    const bx=292+50.58*i;
    const t=mk('text',{x:bx,y:463,'font-size':46.5,transform:`rotate(-90 ${bx} 463)`},host,name);
    
    
  });
  for(let i=0;i<=genesA.length;i++){
    const l=mk('line',{x1:xCol(i),x2:xCol(i),y1:top,y2:yRow(tissuesA.length),stroke:(i===0||i===genesA.length)?'#bdbdbd':'#ececec','stroke-width':2},host);
    
    
  }
  for(let j=0;j<=tissuesA.length;j++){
    const edge=(j===0||j===tissuesA.length);
    const l=mk('line',{x1:left,x2:xCol(genesA.length),y1:yRow(j),y2:yRow(j),stroke:edge?'#bdbdbd':'#ececec','stroke-width':edge?3:2},host);
    
    
  }
  valuesA.forEach((row,j)=>{
    row.forEach((v,i)=>{
      const c=mk('circle',{cx:xCol(i+.5),cy:yRow(j+.5),r:20.5,fill:colorDot(v)},host);
      
      
    });
    const lab=mk('text',{x:4053,y:505+49.7*j,'font-size':47},host,tissuesA[j]);
    
    
  });
})();

/* ---------- Panels B and C ---------- */
function drawDendrogram(tree,host,rightX,yOf,unit){
  let leaf=0;
  function walk(node){
    if(node===0){const y=yOf(leaf);leaf++;return {x:rightX,y:y};}
    const a=walk(node[1]),b=walk(node[2]);
    const x=rightX-node[0]*unit,y=(a.y+b.y)/2;
    const p=mk('path',{d:`M${a.x},${a.y}H${x}V${b.y}H${b.x}`,fill:'none',stroke:'#000','stroke-width':3},host);
    
    
    return {x:x,y:y};
  }
  walk(tree);
}
(function(){
  const host=document.getElementById('panelB');
  const left=353,top=1762.5,colW=100.2,rowH=27.83;
  const xCol=i=>left+colW*i;
  const yRow=j=>top+rowH*j;
  valuesB.forEach((row,j)=>{
    row.forEach((v,i)=>{
      const r=mk('rect',{x:xCol(i),y:yRow(j),width:colW+.6,height:rowH+.6,fill:colorHeat(v)},host);
      
      
    });
    const t=mk('text',{x:970,y:1783.5+27.9*j,'font-size':31.5},host,genesB[j]);
    
    
  });
  drawDendrogram(treeB,host,left,j=>yRow(j+.5),0.7018);
  redMarkersB.forEach(g=>{
    const m=triangle(host,1163,yRow(genesB.indexOf(g)+.5),'#ff1020');
    
    
  });
  blueMarkersB.forEach(g=>{
    const m=triangle(host,1163,yRow(genesB.indexOf(g)+.5)-3,'#0070c0');
    
    
  });
})();
(function(){
  const host=document.getElementById('panelC');
  const left=1487,top=1745.6,colW=100.3,rowH=27.44;
  const xCol=i=>left+colW*i;
  const yRow=j=>top+rowH*j;
  valuesC.forEach((row,j)=>{
    row.forEach((v,i)=>{
      const r=mk('rect',{x:xCol(i),y:yRow(j),width:colW+.6,height:rowH+.6,fill:colorHeat(v)},host);
      
      
    });
    const t=mk('text',{x:2105.6,y:1780+27.36*j,'font-size':31.5},host,genesC[j]);
    
    
  });
  drawDendrogram(treeC,host,left,j=>yRow(j+.5),0.7018);
  redMarkersC.forEach(g=>{
    const m=triangle(host,2280,yRow(genesC.indexOf(g)+.5),'#ff1020');
    
    
  });
})();

/* ---------- Panel D ---------- */
(function(){
  const host=document.getElementById('panelD');
  const cx=3395,cy=2732,outer=721,ringW=25.67,span=270;
  const step=span/genesD.length;
  const angle=i=>i*step*Math.PI/180;
  const px=(r,a)=>cx-r*Math.sin(a);
  const py=(r,a)=>cy-r*Math.cos(a);
  valuesD.forEach((row,i)=>{
    const a0=angle(i),a1=angle(i+1);
    row.forEach((v,k)=>{
      const ro=outer-ringW*k,ri=ro-ringW;
      const d=`M${px(ro,a0)},${py(ro,a0)}A${ro},${ro} 0 0 0 ${px(ro,a1)},${py(ro,a1)}L${px(ri,a1)},${py(ri,a1)}A${ri},${ri} 0 0 1 ${px(ri,a0)},${py(ri,a0)}Z`;
      const c=colorHeat(v);
      const cell=mk('path',{d:d,fill:c,stroke:c,'stroke-width':.6},host);
      
      
    });
    const a=angle(i+.5),deg=(i+.5)*step;
    const r=741-8*Math.cos(a);
    const x=px(r,a),y=py(r,a);
    const leftSide=deg<180;
    const rot=leftSide?90-deg:270-deg;
    const t=mk('text',{x:x,y:y,dy:'.35em','font-size':31.3,'text-anchor':leftSide?'end':'start',transform:`rotate(${rot} ${x} ${y})`},host,genesD[i]);
    
    
  });
  ringsD.forEach((name,k)=>{
    const t=mk('text',{x:3400,y:cy-(outer-ringW*(k+.5))+7,'font-size':31},host,name);
    
    
  });
  let leaf=0;
  const leafR=396;
  function walk(node){
    if(node===0){const a=angle(leaf+.5);leaf++;return {r:leafR,a:a};}
    const p=walk(node[1]),q=walk(node[2]);
    const r=node[0],a=(p.a+q.a)/2;
    const d=`M${px(p.r,p.a)},${py(p.r,p.a)}L${px(r,p.a)},${py(r,p.a)}A${r},${r} 0 ${(q.a-p.a)>Math.PI?1:0} 0 ${px(r,q.a)},${py(r,q.a)}L${px(q.r,q.a)},${py(q.r,q.a)}`;
    const b=mk('path',{d:d,fill:'none',stroke:'#000','stroke-width':3},host);
    
    
    return {r:r,a:a};
  }
  walk(treeD);
  redMarkersD.forEach(g=>{
    const a=angle(genesD.indexOf(g)+.5);
    const m=triangle(host,px(925,a),py(925,a),'#ff1020');
    
    
  });
  blueMarkersD.forEach(g=>{
    const a=angle(genesD.indexOf(g)+.5);
    const m=triangle(host,px(925,a),py(925,a),'#0070c0');
    
    
  });
})();
</script>
</body>
</html>
